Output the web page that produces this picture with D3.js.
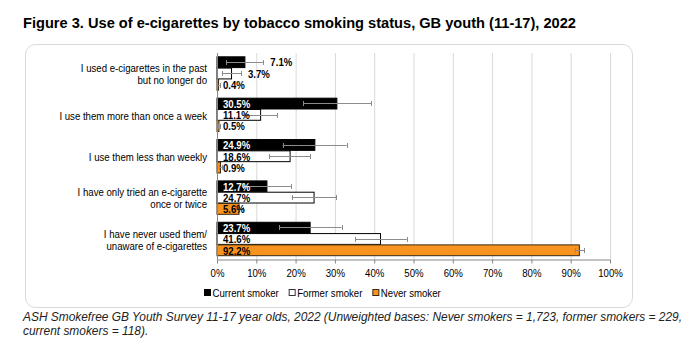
<!DOCTYPE html>
<html><head><meta charset="utf-8">
<script src="https://cdn.jsdelivr.net/npm/d3@7"></script>
<style>body{margin:0;background:#fff}svg{display:block}text{font-family:"Liberation Sans",Arial,sans-serif}</style>
</head><body><svg id="c" width="700" height="343"></svg>
<script>
const categories = [
  ["I used e-cigarettes in the past", "but no longer do"],
  ["I use them more than once a week"],
  ["I use them less than weekly"],
  ["I have only tried an e-cigarette", "once or twice"],
  ["I have never used them/", "unaware of e-cigarettes"]
];
const seriesNames = ["Current smoker", "Former smoker", "Never smoker"];
const currentVals = [7.1, 30.5, 24.9, 12.7, 23.7];
const currentLo   = [2.3, 22.0, 16.7, 6.6, 15.8];
const currentHi   = [11.8, 39.2, 33.0, 18.8, 31.7];
const formerVals  = [3.7, 11.1, 18.6, 24.7, 41.6];
const formerLo    = [1.2, 7.0, 13.3, 19.0, 35.1];
const formerHi    = [6.1, 15.3, 23.7, 30.3, 48.3];
const neverVals   = [0.4, 0.5, 0.9, 5.6, 92.2];
const neverLo     = [0.1, 0.2, 0.5, 4.5, 91.0];
const neverHi     = [0.7, 0.8, 1.3, 6.7, 93.5];
const xTicks = [0,10,20,30,40,50,60,70,80,90,100];
const titleText = "Figure 3. Use of e-cigarettes by tobacco smoking status, GB youth (11-17), 2022";
const captionLines = ["ASH Smokefree GB Youth Survey 11-17 year olds, 2022 (Unweighted bases: Never smokers = 1,723, former smokers = 229,",
  "current smokers = 118)."];

const fills = ["#000000", "#ffffff", "#F7931E"];
const strokes = ["#000000", "#000000", "#3a2a10"];
const labelColors = ["#ffffff", "#000000", "#000000"];
const SQ = 0.9;

const svg = d3.select("#c");
function squeeze(sel, r) {
  sel.each(function(){ const w = this.getComputedTextLength(); d3.select(this).attr("textLength", w*r).attr("lengthAdjust","spacingAndGlyphs"); });
}
function fitTo(sel, w) { sel.attr("textLength", w).attr("lengthAdjust","spacingAndGlyphs"); }

// title
svg.append("text").attr("x",23).attr("y",28).attr("font-size","14.5px").attr("font-weight","bold").attr("fill","#000").text(titleText).call(fitTo, 553);

// box
svg.append("rect").attr("x",25.5).attr("y",44.5).attr("width",607).attr("height",263).attr("rx",10).attr("fill","#fff").attr("stroke","#d9d9d9").attr("stroke-width",1);

const x = d3.scaleLinear().domain([0,100]).range([217,610]);
const y = d3.scaleBand().domain(d3.range(categories.length)).range([53,259]).paddingInner(0.18).paddingOuter(0.08);
const ys = d3.scaleBand().domain([0,1,2]).range([0,y.bandwidth()]);

// gridlines
svg.append("g").selectAll("line").data(xTicks.slice(1)).join("line")
  .attr("x1",d=>x(d)+0.5).attr("x2",d=>x(d)+0.5).attr("y1",53).attr("y2",259).attr("stroke","#d9d9d9");

const rows = [];
const vals=[currentVals,formerVals,neverVals], los=[currentLo,formerLo,neverLo], his=[currentHi,formerHi,neverHi];
categories.forEach((c,i)=>{ for(let s=0;s<3;s++) rows.push({i,s,v:vals[s][i],lo:los[s][i],hi:his[s][i]}); });

// bars
svg.append("g").selectAll("rect").data(rows).join("rect")
  .attr("x",x(0)).attr("y",d=>y(d.i)+ys(d.s)+0.5).attr("width",d=>x(d.v)-x(0)).attr("height",ys.bandwidth()-0.5)
  .attr("fill",d=>fills[d.s]).attr("stroke",d=>strokes[d.s]).attr("stroke-width",1);

// axes
const xAxis = d3.axisBottom(x).tickValues(xTicks).tickFormat(d=>d+"%").tickSize(4).tickSizeOuter(0);
const gx = svg.append("g").attr("transform","translate(0,259.5)").call(xAxis);
gx.select(".domain").attr("stroke","#868686");
gx.selectAll(".tick line").attr("stroke","#868686");
gx.selectAll(".tick text").attr("font-size","10.7px").attr("fill","#000").attr("y",10).attr("dy","0.71em").call(squeeze,SQ);
svg.append("line").attr("x1",x(0)+0.5).attr("x2",x(0)+0.5).attr("y1",53).attr("y2",259.5).attr("stroke","#868686");

// error bars
const eb = svg.append("g").attr("stroke","#8c8c8c").attr("stroke-width",1);
rows.forEach(d=>{
  const cy = Math.round(y(d.i)+ys(d.s)+ys.bandwidth()/2)+0.5;
  eb.append("line").attr("x1",x(d.lo)).attr("x2",x(d.hi)).attr("y1",cy).attr("y2",cy);
  [d.lo,d.hi].forEach(v=>eb.append("line").attr("x1",Math.round(x(v))+0.5).attr("x2",Math.round(x(v))+0.5).attr("y1",cy-2.5).attr("y2",cy+2.5));
});

// value labels
const lab = svg.append("g");
rows.forEach(d=>{
  const t = lab.append("text").attr("font-size","10.7px").attr("font-weight","bold")
    .attr("y",y(d.i)+ys(d.s)+ys.bandwidth()/2+0.5).attr("dominant-baseline","central").text(d.v.toFixed(1)+"%");
  t.call(squeeze,SQ);
  const w = t.node().getComputedTextLength()*SQ;
  const inside = d.s===2 || (x(d.v)-x(0)) > w+16;
  t.attr("x", inside ? x(0)+6 : x(d.hi)+7).attr("fill", inside ? labelColors[d.s] : "#000");
});

// category labels
categories.forEach((lines,i)=>{
  const cy = y(i)+y.bandwidth()/2+1;
  lines.forEach((ln,k)=>{
    svg.append("text").attr("x",207).attr("y",cy+(k-(lines.length-1)/2)*12).attr("dominant-baseline","central")
      .attr("text-anchor","end").attr("font-size","10.7px").attr("fill","#000").text(ln).call(squeeze,SQ);
  });
});

// legend
let lx = 204;
seriesNames.forEach((n,s)=>{
  svg.append("rect").attr("x",lx+0.5).attr("y",289.5).attr("width",6).attr("height",6).attr("fill",fills[s]).attr("stroke",s===1?"#333":strokes[s]);
  const t = svg.append("text").attr("x",lx+8.5).attr("y",297).attr("font-size","10.7px").attr("fill","#000").text(n).call(squeeze,SQ);
  lx += 8.5 + t.node().getComputedTextLength()*SQ + 16.5;
});

// caption
const c1 = svg.append("text").attr("x",23).attr("y",321).attr("font-size","12px").attr("font-style","italic").attr("fill","#222").text(captionLines[0]);
const r = 659/c1.node().getComputedTextLength();
c1.call(fitTo,659);
svg.append("text").attr("x",23).attr("y",335).attr("font-size","12px").attr("font-style","italic").attr("fill","#222").text(captionLines[1]).call(squeeze,r);
</script></body></html>
